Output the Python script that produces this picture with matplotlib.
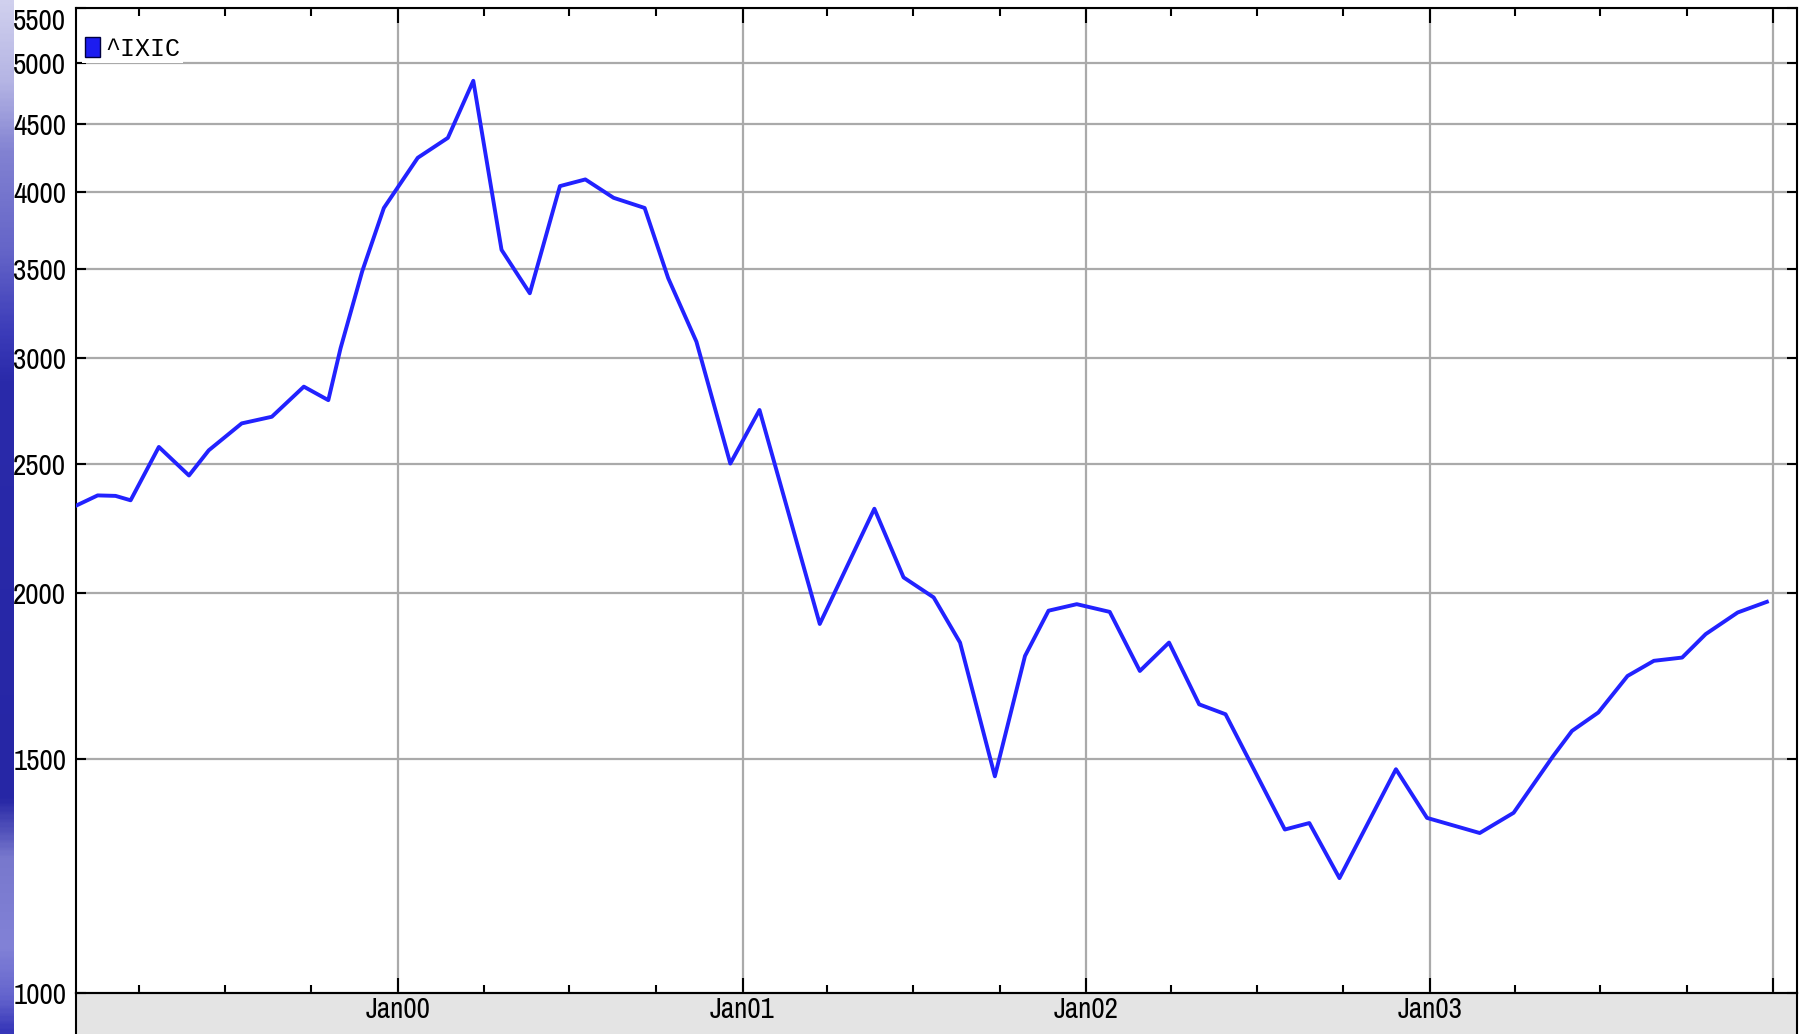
import numpy as np
import matplotlib
matplotlib.use('Agg')
import matplotlib.pyplot as plt
import matplotlib.dates as mdates
from matplotlib import font_manager
from matplotlib.patches import Patch
from matplotlib.colors import LinearSegmentedColormap

# ── data (^IXIC, log scale) ────────────────────────────────────────────
dates = ['1999-01-25', '1999-02-16', '1999-03-07', '1999-03-23', '1999-04-22',
         '1999-05-24', '1999-06-14', '1999-07-19', '1999-08-20', '1999-09-23',
         '1999-10-19', '1999-11-01', '1999-11-24', '1999-12-17',
         '2000-01-22', '2000-02-23', '2000-03-21', '2000-04-20', '2000-05-20',
         '2000-06-21', '2000-07-18', '2000-08-17', '2000-09-19', '2000-10-14',
         '2000-11-13', '2000-12-19',
         '2001-01-19', '2001-03-24', '2001-05-21', '2001-06-21', '2001-07-23',
         '2001-08-20', '2001-09-26', '2001-10-28', '2001-11-22', '2001-12-22',
         '2002-01-26', '2002-02-27', '2002-03-30', '2002-05-01', '2002-05-29',
         '2002-07-31', '2002-08-26', '2002-09-27', '2002-11-26', '2002-12-29',
         '2003-02-23', '2003-03-31', '2003-05-12', '2003-06-01', '2003-06-29',
         '2003-07-30', '2003-08-27', '2003-09-26', '2003-10-21', '2003-11-24',
         '2003-12-25']
values = [2326, 2366, 2364, 2346, 2573, 2449, 2558, 2680, 2711, 2856,
          2790, 3052, 3487, 3891,
          4244, 4393, 4849, 3619, 3357, 4041, 4088, 3960, 3891, 3446, 3087, 2500,
          2743, 1894, 2312, 2053, 1983, 1834, 1455, 1792, 1938, 1960,
          1934, 1746, 1834, 1648, 1620, 1327, 1342, 1220, 1473, 1354,
          1319, 1366, 1507, 1574, 1625, 1731, 1777, 1787, 1861, 1932, 1968]
series_name = '^IXIC'

y_ticks = [1000, 1500, 2000, 2500, 3000, 3500, 4000, 4500, 5000, 5500]
year_ticks = ['2000-01-01', '2001-01-01', '2002-01-01', '2003-01-01', '2004-01-01']
year_labels = ['Jan00', 'Jan01', 'Jan02', 'Jan03', '']
x_range = ['1999-01-24', '2004-01-26']

# ── fonts: a narrow face if one is installed ─────────────────────────
ttf = font_manager.fontManager.ttflist
names = {f.name for f in ttf}
narrow = [f.name for f in ttf if 'Narrow' in f.name or 'Condensed' in f.name]
tick_stretch = 'normal'
if 'Liberation Sans Narrow' in names:
    tick_font, tick_size = 'Liberation Sans Narrow', 20
elif narrow:
    tick_font, tick_size = narrow[0], 21
elif any(f.name == 'DejaVu Sans' and f.stretch == 'condensed' for f in ttf):
    tick_font, tick_size, tick_stretch = 'DejaVu Sans', 17, 'condensed'
else:
    tick_font, tick_size = 'DejaVu Sans', 15
legend_font = 'Liberation Mono' if 'Liberation Mono' in names else 'DejaVu Sans Mono'

W, H = 1805, 1034
fig = plt.figure(figsize=(W / 100, H / 100), dpi=100)
fig.patch.set_facecolor('white')

# ── slide background strip on the left ───────────────────────────────
stops = [(0, (208, 208, 238)), (80, (180, 180, 228)), (150, (130, 130, 210)),
         (250, (100, 100, 200)), (330, (60, 60, 185)), (380, (42, 42, 170)),
         (800, (38, 38, 165)), (860, (120, 120, 205)), (950, (130, 130, 215)),
         (1000, (100, 100, 205)), (1034, (55, 55, 185))]
cmap = LinearSegmentedColormap.from_list(
    'strip', [(p / H, tuple(c / 255 for c in rgb)) for p, rgb in stops])
ax_s = fig.add_axes([0, 0, 14 / W, 1])
ax_s.imshow(np.linspace(0, 1, 400)[:, None], cmap=cmap, aspect='auto',
            extent=[0, 1, 1, 0])
ax_s.axis('off')

# ── gray band under the x axis ───────────────────────────────────────
left, right, top, bottom = 76, 1797, 8, 993
ax_b = fig.add_axes([left / W, 0, (right - left) / W, (H - bottom) / H])
ax_b.set_facecolor('#e4e4e4')
ax_b.set_xticks([])
ax_b.set_yticks([])
for s in ['left', 'right', 'top']:
    ax_b.spines[s].set_linewidth(1.5)
    ax_b.spines[s].set_color('black')
ax_b.spines['bottom'].set_visible(False)
ax_b.set_zorder(1)

# ── main plot ────────────────────────────────────────────────────────
ax = fig.add_axes([left / W, (H - bottom) / H, (right - left) / W, (bottom - top) / H])
ax.set_zorder(3)
x = [np.datetime64(d) for d in dates]
ax.plot(x, values, color='#2222ff', lw=2.8, label=series_name, zorder=3)

ax.set_yscale('log')
ax.set_ylim(1000, 5500)
ax.yaxis.set_major_locator(matplotlib.ticker.FixedLocator(y_ticks))
ax.yaxis.set_major_formatter(matplotlib.ticker.FixedFormatter([str(v) for v in y_ticks]))
ax.yaxis.set_minor_locator(matplotlib.ticker.NullLocator())

ax.set_xlim(np.datetime64(x_range[0]), np.datetime64(x_range[1]))
ax.set_xticks([np.datetime64(d) for d in year_ticks])
ax.set_xticklabels(year_labels)
ax.xaxis.set_minor_locator(mdates.MonthLocator(bymonth=[4, 7, 10]))

ax.grid(True, which='major', color='#aaaaaa', lw=1.6)
ax.set_axisbelow(True)
ax.tick_params(which='both', direction='in', top=True, right=True, width=1.5,
               colors='black', labelsize=tick_size)
ax.tick_params(axis='y', which='major', length=7, pad=7)
ax.tick_params(axis='x', which='major', length=11, pad=2)
ax.tick_params(axis='x', which='minor', length=6)
for lab in ax.get_xticklabels() + ax.get_yticklabels():
    lab.set_fontfamily(tick_font)
    lab.set_fontstretch(tick_stretch)
ax.get_yticklabels()[-1].set_verticalalignment('top')
for s in ax.spines.values():
    s.set_linewidth(1.5)
    s.set_color('black')

leg = ax.legend(handles=[Patch(facecolor='#1c1cf0', edgecolor='#000040')],
                labels=[series_name], loc='upper left',
                bbox_to_anchor=(6 / (right - left), 1 - 26 / (bottom - top)),
                borderaxespad=0, borderpad=0.1, handlelength=0.6, handleheight=0.9,
                handletextpad=0.25, frameon=True, fancybox=False,
                prop={'family': legend_font, 'size': 18})
leg.get_frame().set_facecolor('white')
leg.get_frame().set_edgecolor('none')
leg.get_frame().set_alpha(1)

plt.savefig('out.png', dpi=100)
